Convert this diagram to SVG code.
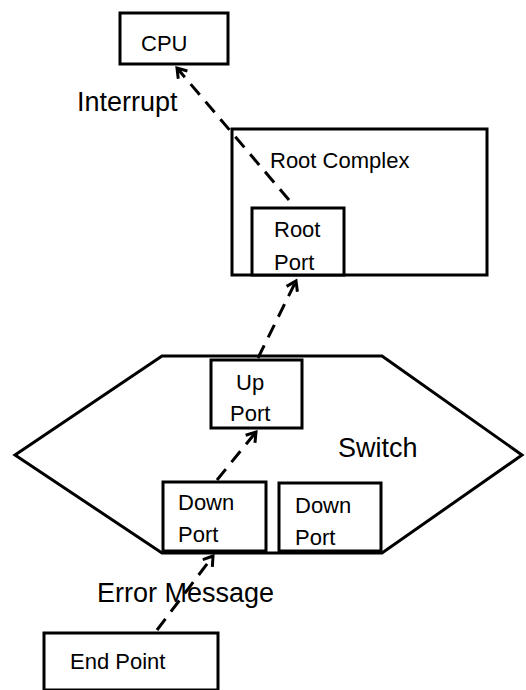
<svg xmlns="http://www.w3.org/2000/svg" width="526" height="690" viewBox="0 0 526 690">
<style>
.box{fill:#fff;stroke:#000;stroke-width:3}
.shape{fill:none;stroke:#000;stroke-width:3;stroke-linejoin:miter}
.t{font-family:"Liberation Sans",Arial,sans-serif;font-size:22px;fill:#000}
.lbl{font-family:"Liberation Sans",Arial,sans-serif;font-size:27px;fill:#000}
.conn{fill:none;stroke:#000;stroke-width:3;stroke-dasharray:14 9}
</style>
<defs>
<marker id="arr" markerUnits="userSpaceOnUse" markerWidth="20" markerHeight="20" refX="0" refY="0" viewBox="-12 -10 14 20" orient="auto">
<path d="M-9,-6 L0,0 L-9,6" fill="none" stroke="#000" stroke-width="3"/>
</marker>
</defs>
<rect width="526" height="690" fill="#fff"/>
<g id="switch">
<polygon class="shape" points="15,455 162,356 382,356 522,455 382,553 162,553"/>
<text class="lbl" x="338" y="457">Switch</text>
</g>
<g id="root-complex">
<rect class="shape" x="232" y="129" width="255" height="146"/>
<text class="t" x="270" y="168">Root Complex</text>
</g>
<g id="cpu">
<rect class="box" x="120" y="13" width="108" height="51"/>
<text class="t" x="141" y="51">CPU</text>
</g>
<g id="root-port">
<rect class="box" x="252" y="208" width="92" height="67"/>
<text class="t" x="274" y="237">Root</text>
<text class="t" x="274" y="270">Port</text>
</g>
<g id="up-port">
<rect class="box" x="211" y="360" width="91" height="68"/>
<text class="t" x="236" y="390">Up</text>
<text class="t" x="230" y="421">Port</text>
</g>
<g id="down-port-1">
<rect class="box" x="163" y="482" width="103" height="69"/>
<text class="t" x="178" y="510">Down</text>
<text class="t" x="178" y="542">Port</text>
</g>
<g id="down-port-2">
<rect class="box" x="279" y="483" width="102" height="68"/>
<text class="t" x="295" y="513">Down</text>
<text class="t" x="295" y="545">Port</text>
</g>
<g id="end-point">
<rect class="box" x="44" y="633" width="174" height="57"/>
<text class="t" x="70" y="669">End Point</text>
</g>
<g id="labels">
<text class="lbl" x="77" y="111">Interrupt</text>
<text class="lbl" x="97" y="602">Error Message</text>
</g>
<g id="connectors">
<line class="conn" x1="289" y1="200" x2="177" y2="68" marker-end="url(#arr)"/>
<line class="conn" x1="258" y1="358" x2="296" y2="281" marker-end="url(#arr)"/>
<line class="conn" x1="217" y1="480" x2="256" y2="432" marker-end="url(#arr)"/>
<line class="conn" x1="157" y1="630" x2="213" y2="556" marker-end="url(#arr)"/>
</g>
</svg>
